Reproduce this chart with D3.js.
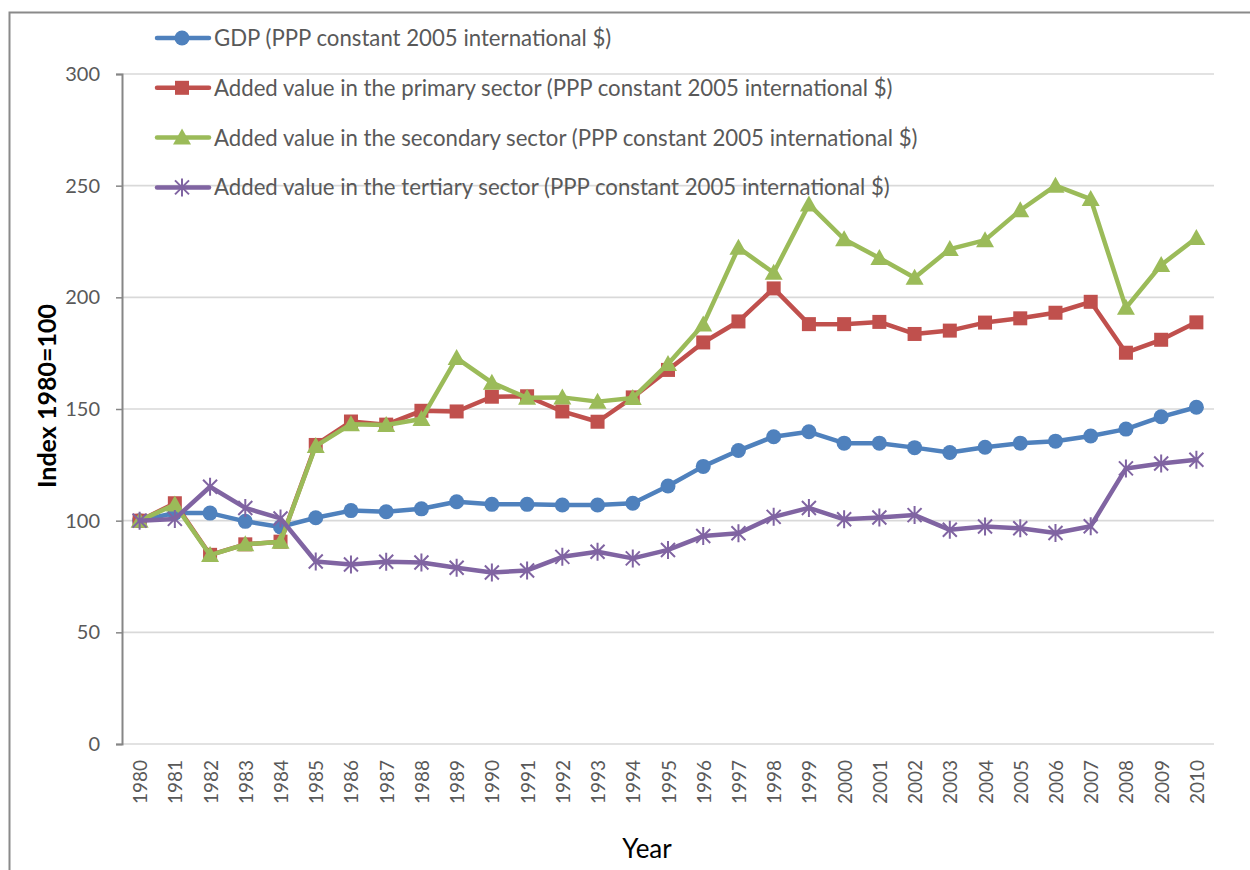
<!DOCTYPE html>
<html>
<head>
<meta charset="utf-8">
<script src="https://cdn.jsdelivr.net/npm/d3@7"></script>
<style>
  html, body { margin: 0; padding: 0; background: #fff; }
  svg { display: block; font-family: Lato, "Open Sans", sans-serif; }
</style>
</head>
<body>
<svg id="chart" width="1250" height="870"></svg>
<script>
// Years on the category axis
const years = d3.range(1980, 2011).map(String);

// Index values, 1980 = 100
const gdp = [100, 103.4, 103.4, 99.7, 97.2, 101.3, 104.5, 104, 105.3, 108.5, 107.3, 107.3, 107, 107, 107.8,
  115.5, 124.3, 131.4, 137.6, 139.8, 134.7, 134.7, 132.7, 130.5, 132.9, 134.7, 135.6, 137.9, 141, 146.5, 150.8];
const primary = [100, 107.8, 84.7, 89.4, 90.6, 133.9, 144.4, 143, 149.2, 148.9, 155.5, 155.7, 148.9, 144.3, 155.2,
  167.5, 179.8, 189.2, 204, 188, 188, 189, 183.6, 185.1, 188.7, 190.6, 193.1, 198, 175.2, 181, 188.8];
const secondary = [100, 107.2, 84.6, 89.4, 90.6, 133.4, 143.2, 142.8, 145.5, 172.8, 161.8, 155, 155.2, 153.3, 154.9,
  170.2, 187.8, 222.2, 211, 241.6, 226, 217.6, 208.8, 221.6, 225.6, 239, 250, 244, 195.3, 214.5, 226.6];
const tertiary = [100, 100.8, 115.2, 105.7, 101, 81.7, 80.4, 81.6, 81.3, 78.9, 76.8, 77.7, 83.8, 86.1, 83.1,
  86.9, 93.1, 94.4, 101.7, 105.7, 100.6, 101.4, 102.5, 95.9, 97.4, 96.6, 94.5, 97.5, 123.4, 125.6, 127.3];

const seriesNames = [
  "GDP (PPP constant 2005 international $)",
  "Added value in the primary sector (PPP constant 2005 international $)",
  "Added value in the secondary sector (PPP constant 2005 international $)",
  "Added value in the tertiary sector (PPP constant 2005 international $)"
];
const seriesColors = ["#4F81BD", "#C0504D", "#9BBB59", "#8064A2"];
const seriesMarkers = ["circle", "square", "triangle", "star"];
const yTicks = [0, 50, 100, 150, 200, 250, 300];

const series = [gdp, primary, secondary, tertiary].map((values, i) => ({
  name: seriesNames[i], color: seriesColors[i], marker: seriesMarkers[i], values
}));

const svg = d3.select("#chart");
const plot = { left: 122, right: 1214, top: 74, bottom: 744 };

const x = d3.scalePoint().domain(years).range([plot.left, plot.right]).padding(0.5);
const y = d3.scaleLinear().domain([0, 300]).range([plot.bottom, plot.top]);

// Outer chart frame (only left and top edges fall inside the page)
svg.append("rect")
  .attr("x", 9.5).attr("y", 12.5).attr("width", 1400).attr("height", 1000)
  .attr("fill", "none").attr("stroke", "#8a8a8a").attr("stroke-width", 2);

// Horizontal gridlines
svg.append("g").selectAll("line").data(yTicks.filter(t => t > 0)).join("line")
  .attr("x1", plot.left).attr("x2", plot.right)
  .attr("y1", d => y(d)).attr("y2", d => y(d))
  .attr("stroke", "#d9d9d9").attr("stroke-width", 1.6);

// X axis baseline
svg.append("line")
  .attr("x1", plot.left).attr("x2", plot.right)
  .attr("y1", y(0)).attr("y2", y(0))
  .attr("stroke", "#d9d9d9").attr("stroke-width", 1.6);

// Y axis
const yAxis = svg.append("g")
  .attr("transform", `translate(${plot.left},0)`)
  .call(d3.axisLeft(y).tickValues(yTicks).tickSize(6).tickPadding(16));
yAxis.select(".domain").attr("stroke", "#868686").attr("stroke-width", 2);
yAxis.selectAll(".tick line").attr("stroke", "#868686").attr("stroke-width", 1.5);
yAxis.selectAll(".tick text")
  .attr("fill", "#595959").attr("font-size", 20).attr("font-family", "Lato, sans-serif");

// X axis labels, rotated
const xAxis = svg.append("g")
  .attr("transform", `translate(0,${plot.bottom})`)
  .call(d3.axisBottom(x).tickSize(0).tickPadding(0));
xAxis.select(".domain").remove();
xAxis.selectAll(".tick text")
  .attr("fill", "#595959").attr("font-size", 19).attr("font-family", "Lato, sans-serif")
  .attr("text-anchor", "end")
  .attr("dy", null)
  .attr("transform", "translate(7,16) rotate(-90)")
  .attr("x", 0).attr("y", 0);

// Axis titles
svg.append("text")
  .attr("transform", "translate(56,396) rotate(-90)")
  .attr("text-anchor", "middle")
  .attr("font-size", 25).attr("font-weight", "bold").attr("fill", "#000")
  .text("Index 1980=100");
svg.append("text")
  .attr("x", 647).attr("y", 858)
  .attr("text-anchor", "middle")
  .attr("font-size", 26).attr("fill", "#000")
  .text("Year");

// Marker drawing
function drawMarker(g, type, color) {
  if (type === "circle") {
    g.append("circle").attr("r", 7.5).attr("fill", color);
  } else if (type === "square") {
    g.append("rect").attr("x", -7).attr("y", -7).attr("width", 14).attr("height", 14).attr("fill", color);
  } else if (type === "triangle") {
    g.append("path").attr("d", "M0,-9 L9,7 L-9,7 Z").attr("fill", color);
  } else if (type === "star") {
    g.append("path")
      .attr("d", "M-7,-7 L7,7 M-7,7 L7,-7 M0,-9 L0,9")
      .attr("stroke", color).attr("stroke-width", 2).attr("fill", "none");
  }
}

const line = d3.line().x((d, i) => x(years[i])).y(d => y(d));

series.forEach(s => {
  const g = svg.append("g");
  g.append("path")
    .attr("d", line(s.values))
    .attr("fill", "none").attr("stroke", s.color)
    .attr("stroke-width", 4.5).attr("stroke-linejoin", "round").attr("stroke-linecap", "round");
  g.selectAll("g.marker").data(s.values).join("g")
    .attr("class", "marker")
    .attr("transform", (d, i) => `translate(${x(years[i])},${y(d)})`)
    .each(function() { drawMarker(d3.select(this), s.marker, s.color); });
});

// Legend
const legend = svg.append("g");
series.forEach((s, i) => {
  const ly = 38 + i * 49.8;
  const item = legend.append("g").attr("transform", `translate(0,${ly})`);
  item.append("line").attr("x1", 157).attr("x2", 209).attr("y1", 0).attr("y2", 0)
    .attr("stroke", s.color).attr("stroke-width", 4.5).attr("stroke-linecap", "round");
  drawMarker(item.append("g").attr("transform", "translate(182,0)"), s.marker, s.color);
  item.append("text").attr("x", 214).attr("y", 8)
    .attr("font-size", 22.2).attr("fill", "#595959")
    .text(s.name);
});
</script>
</body>
</html>
